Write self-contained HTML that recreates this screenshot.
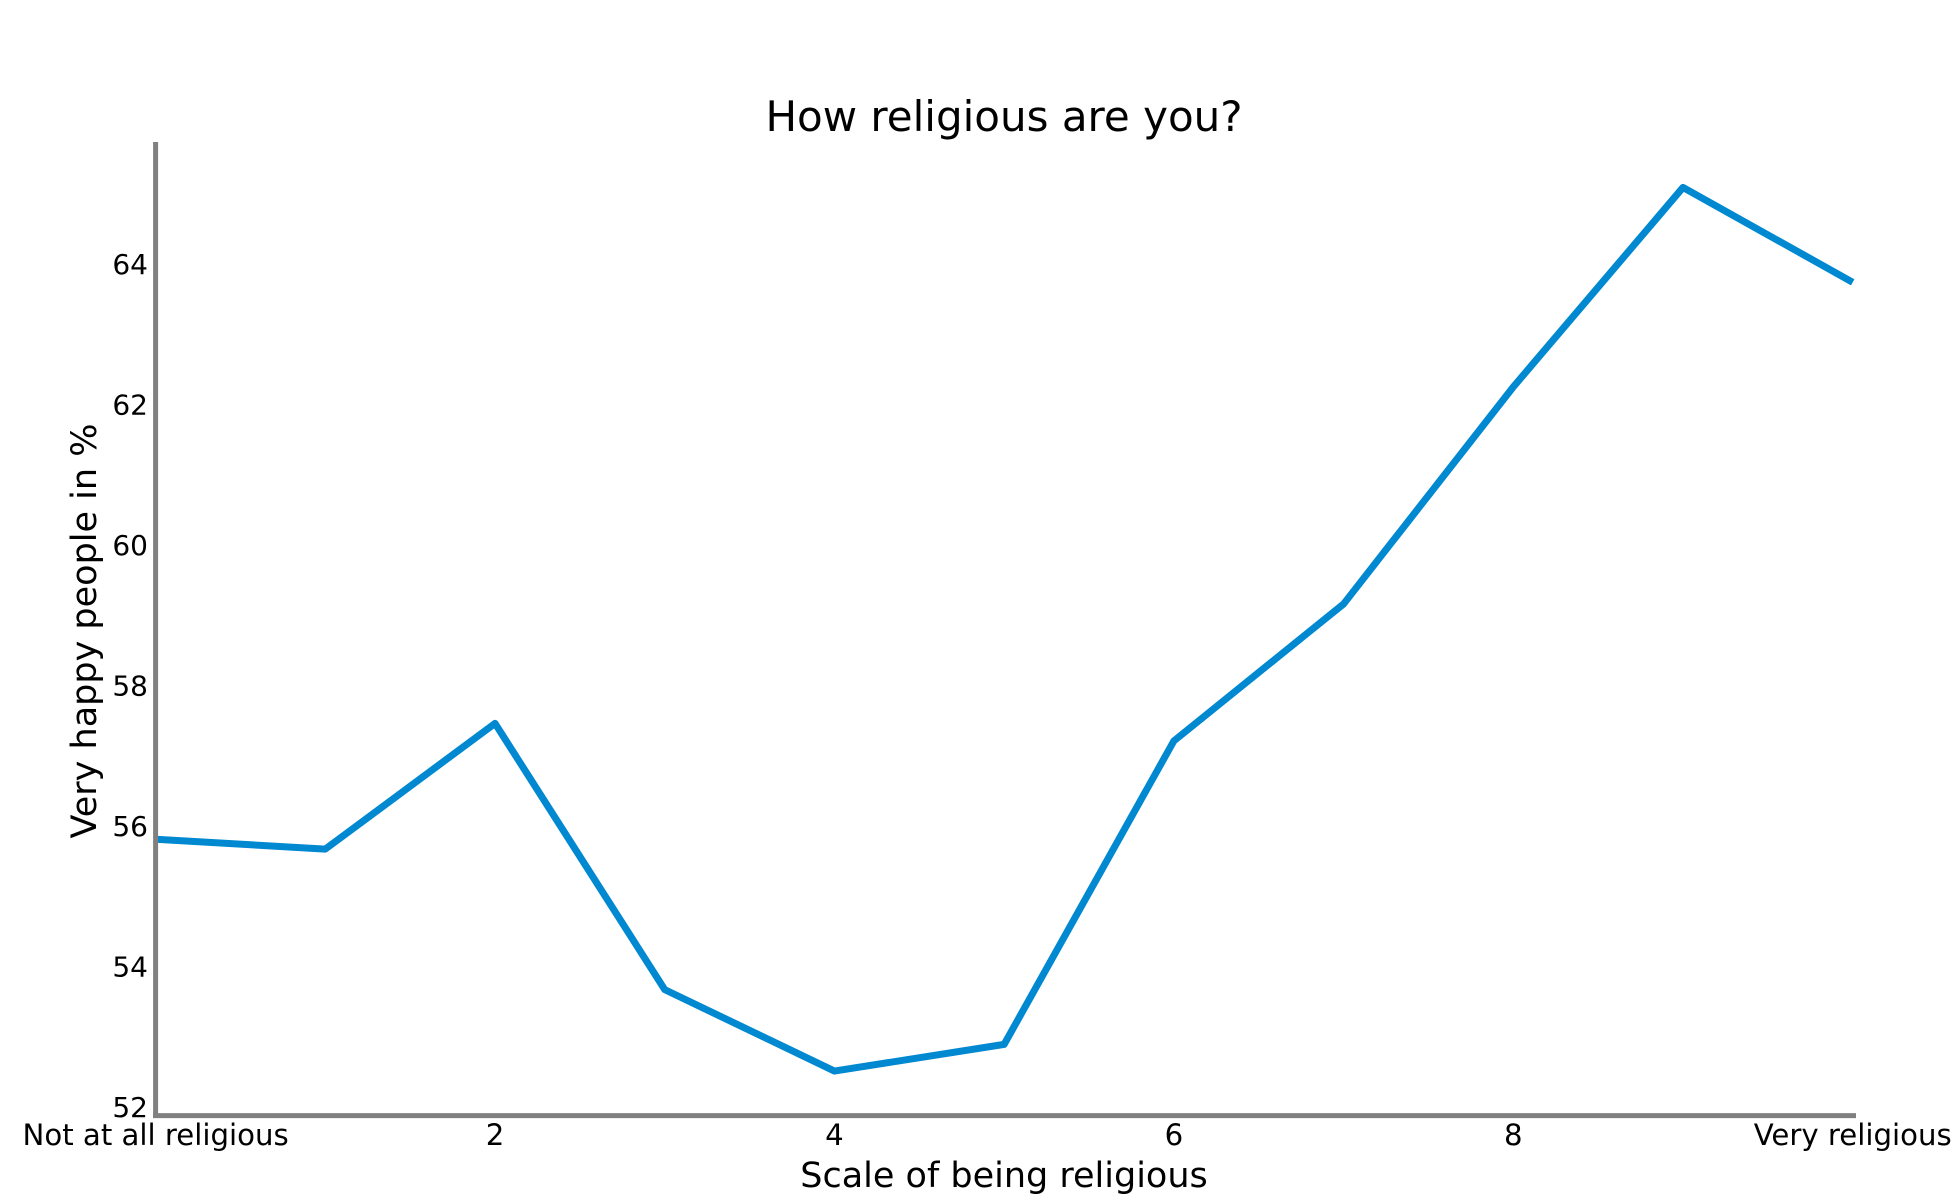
<!DOCTYPE html>
<html><head><meta charset="utf-8"><style>
html,body{margin:0;padding:0;background:#fff;}
svg{display:block;font-family:"DejaVu Sans","Liberation Sans",sans-serif;}
</style></head><body>
<svg id="chart" width="1951" height="1200" viewBox="0 0 1951 1200">
<text x="1004" y="131" font-size="42" text-anchor="middle">How religious are you?</text>
<g id="yticks"></g><g id="xticks"></g>
<path id="line" fill="none" stroke="#0088d1" stroke-width="7" stroke-linejoin="round"/>
<line x1="155.6" y1="142" x2="155.6" y2="1118" stroke="#808080" stroke-width="5"/>
<line x1="153" y1="1115.6" x2="1856" y2="1115.6" stroke="#808080" stroke-width="5"/>
<text x="1004" y="1187" font-size="35" text-anchor="middle">Scale of being religious</text>
<text transform="translate(96,631) rotate(-90)" font-size="35" text-anchor="middle">Very happy people in %</text>
</svg>
<script>
const xValues=[0,1,2,3,4,5,6,7,8,9,10];
const yValues=[55.81,55.67,57.46,53.67,52.51,52.89,57.21,59.16,62.25,65.09,63.74];
const xTicks=[0,2,4,6,8,10];
const xTickLabels=["Not at all religious","2","4","6","8","Very religious"];
const yTicks=[52,54,56,58,60,62,64];
const NS="http://www.w3.org/2000/svg";
function sx(v){return 155.6+(1852.7-155.6)*v/10;}
function sy(v){return 1106.9-(1106.9-264)*(v-52)/12;}
const line=document.getElementById('line');
line.setAttribute('d',xValues.map((x,i)=>(i?'L':'M')+sx(x)+','+sy(yValues[i])).join(' '));
const yg=document.getElementById('yticks');
yTicks.forEach(t=>{const e=document.createElementNS(NS,'text');
e.setAttribute('x',148);e.setAttribute('y',sy(t)+10);e.setAttribute('font-size','28');e.setAttribute('text-anchor','end');


e.textContent=t;yg.appendChild(e);});
const xg=document.getElementById('xticks');
xTicks.forEach((t,i)=>{const e=document.createElementNS(NS,'text');
e.setAttribute('x',sx(t));e.setAttribute('y',1145);e.setAttribute('font-size','29.2');e.setAttribute('text-anchor','middle');


e.textContent=xTickLabels[i];xg.appendChild(e);});
</script>
</body></html>
